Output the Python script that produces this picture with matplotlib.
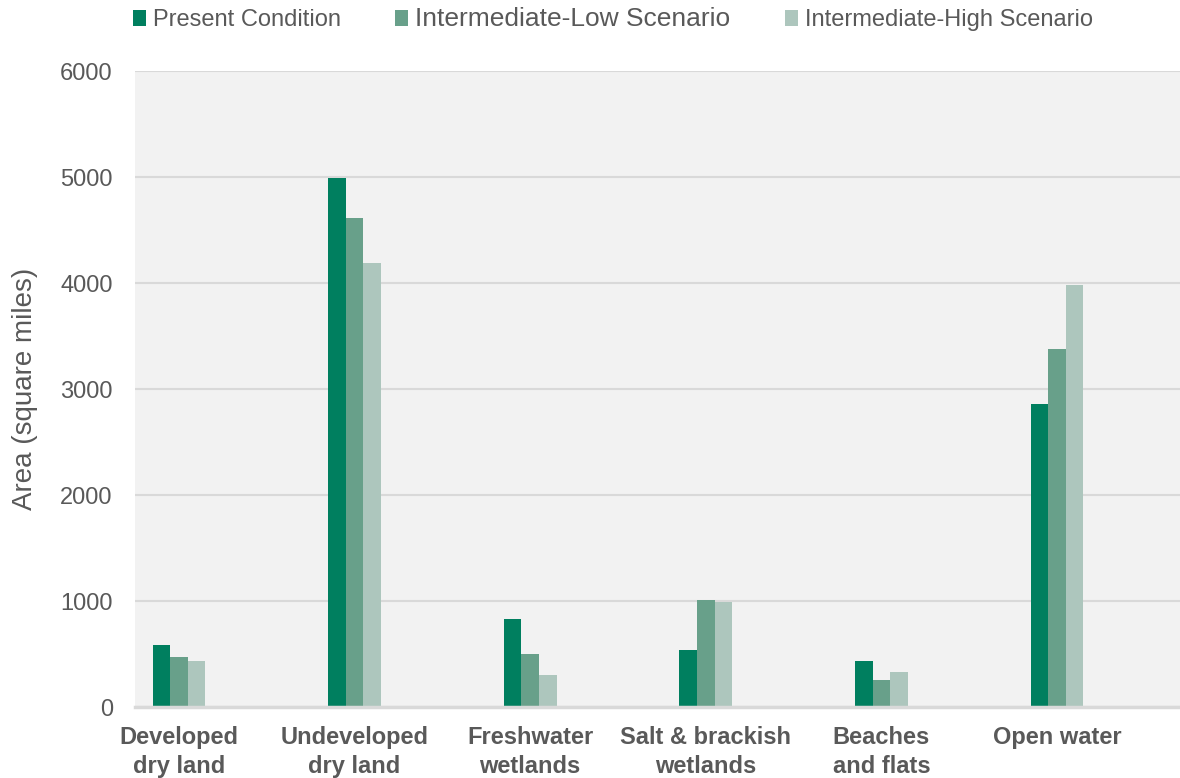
import matplotlib
matplotlib.use("Agg")
import matplotlib.pyplot as plt
from matplotlib.patches import Patch
import numpy as np

categories = ["Developed\ndry land", "Undeveloped\ndry land", "Freshwater\nwetlands",
              "Salt & brackish\nwetlands", "Beaches\nand flats", "Open water"]
series_names = ["Present Condition", "Intermediate-Low Scenario", "Intermediate-High Scenario"]
present = [583, 4986, 828, 542, 432, 2856]
inter_low = [472, 4612, 498, 1014, 259, 3381]
inter_high = [438, 4193, 299, 992, 328, 3985]
y_ticks = [0, 1000, 2000, 3000, 4000, 5000, 6000]

colors = ["#007F5F", "#68A08A", "#ADC6BD"]
text_color = "#595959"
grid_color = "#D9D9D9"

plt.rcParams['font.family'] = ['Liberation Sans', 'DejaVu Sans']

fig = plt.figure(figsize=(11.8, 7.78), dpi=100)
ax = fig.add_axes([135 / 1180, 1 - 707 / 778, 1 - 135 / 1180, (707 - 71) / 778])
ax.set_facecolor("#F2F2F2")

x = np.arange(len(categories))
w = 0.1
for k, vals in enumerate([present, inter_low, inter_high]):
    ax.bar(x + (k - 1) * w, vals, width=w, color=colors[k], linewidth=0,
           label=series_names[k], zorder=3)

ax.set_xlim(-0.25, 5.70)
ax.set_ylim(0, 6000)
ax.set_yticks(y_ticks)
ax.yaxis.grid(True, color=grid_color, linewidth=1.5, zorder=0)
ax.set_axisbelow(True)
for s in ["top", "right", "left"]:
    ax.spines[s].set_visible(False)
ax.spines["bottom"].set_color(grid_color)
ax.spines["bottom"].set_linewidth(2.5)
ax.spines["bottom"].set_zorder(4)

ax.set_xticks(x)
ax.set_xticklabels(categories, fontsize=17, fontweight="bold", color=text_color,
                   linespacing=1.3)
ax.tick_params(axis="x", length=0, pad=14)
ax.tick_params(axis="y", length=0, pad=16, labelsize=17, labelcolor=text_color)

ax.set_ylabel("Area (square miles)", fontsize=20, color=text_color)
ax.yaxis.set_label_coords(-(135 - 38) / 1045, 0.5)

handles = [Patch(facecolor=c, edgecolor="none") for c in colors]
leg = fig.legend(handles, series_names, loc="center left",
                 bbox_to_anchor=(133 / 1180, 1 - 19 / 778), ncol=3, frameon=False,
                 fontsize=17, handlelength=0.55, handleheight=0.65, handletextpad=0.3,
                 columnspacing=2.3, borderpad=0, borderaxespad=0)
for t, fs in zip(leg.get_texts(), [17, 19, 17]):
    t.set_fontsize(fs)
    t.set_color(text_color)

fig.savefig("out.png", dpi=100)
